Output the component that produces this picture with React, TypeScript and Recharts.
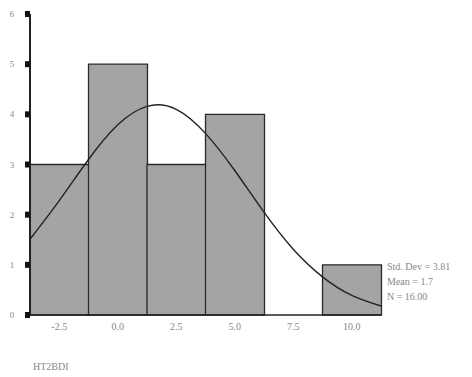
import React from "react";
import { ComposedChart, Bar, Line, XAxis, YAxis } from "recharts";

// Histogram bins (midpoints) and their frequencies
const binLabels = ["-2.5", "0.0", "2.5", "5.0", "7.5", "10.0"];
const binCounts = [3, 5, 3, 4, 0, 1];

// Fitted normal curve, sampled along the x range
const curveX = [-3.75, -2.5, -1.25, 0, 1.25, 2.5, 3.75, 5, 6.25, 7.5, 8.75, 10, 11.25];
const curveY = [1.51, 2.28, 3.1, 3.79, 4.16, 4.1, 3.62, 2.88, 2.05, 1.31, 0.76, 0.39, 0.18];

const yTicks = [0, 1, 2, 3, 4, 5, 6];
const statLines = ["Std. Dev = 3.81", "Mean = 1.7", "N = 16.00"];
const varName = "HT2BDI";

const histData = binLabels.map((bin, i) => ({ bin, count: binCounts[i] }));
const curveData = curveX.map((x, i) => ({ x, y: curveY[i] }));

const FONT = "'Liberation Serif', 'DejaVu Serif', serif";

const YTick = (props: any) => {
  const { y, payload } = props;
  return (
    <g>
      <rect x={25} y={y - 3} width={5} height={6} fill="#111" />
      <text x={12} y={y + 3} textAnchor="middle" fontSize={9} fill="#888" fontFamily={FONT}>
        {payload.value}
      </text>
    </g>
  );
};

const XTick = (props: any) => {
  const { x, y, payload } = props;
  return (
    <text x={x} y={y + 7} textAnchor="middle" fontSize={10} fill="#888" fontFamily={FONT}>
      {payload.value}
    </text>
  );
};

export default function App() {
  return (
    <div style={{ position: "absolute", left: 0, top: 0, width: 472, height: 377, background: "#fff" }}>
      <ComposedChart
        width={472}
        height={377}
        data={histData}
        margin={{ top: 14, right: 91, bottom: 32, left: 0 }}
        barCategoryGap={0}
      >
        <XAxis
          xAxisId="cat"
          dataKey="bin"
          tick={<XTick />}
          tickLine={false}
          axisLine={{ stroke: "#222", strokeWidth: 1.5 }}
          interval={0}
        />
        <XAxis
          xAxisId="num"
          type="number"
          dataKey="x"
          domain={[-3.75, 11.25]}
          allowDataOverflow
          hide
        />
        <YAxis
          width={30}
          domain={[0, 6]}
          ticks={yTicks}
          tick={<YTick />}
          tickLine={false}
          axisLine={{ stroke: "#222", strokeWidth: 2 }}
          interval={0}
        />
        <Bar
          xAxisId="cat"
          dataKey="count"
          fill="#a4a4a4"
          stroke="#2a2a2a"
          strokeWidth={1.3}
          isAnimationActive={false}
        />
        <Line
          xAxisId="num"
          data={curveData}
          dataKey="y"
          type="natural"
          stroke="#222"
          strokeWidth={1.4}
          dot={false}
          isAnimationActive={false}
        />
      </ComposedChart>
      <div style={{ position: "absolute", left: 387, top: 259, fontFamily: FONT, fontSize: 10, color: "#888", lineHeight: "15px", whiteSpace: "pre" }}>
        {statLines.map((s) => (
          <div key={s}>{s}</div>
        ))}
      </div>
      <div style={{ position: "absolute", left: 33, top: 361, fontFamily: FONT, fontSize: 10, color: "#888" }}>
        {varName}
      </div>
    </div>
  );
}
